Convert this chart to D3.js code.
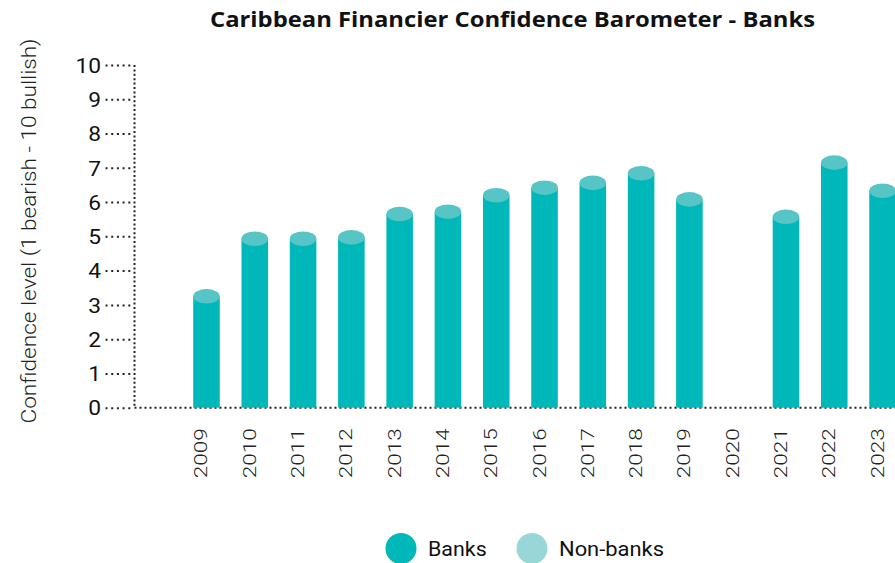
<!DOCTYPE html>
<html>
<head>
<meta charset="utf-8">
<script src="https://cdn.jsdelivr.net/npm/d3@7"></script>
<style>
  html, body { margin: 0; padding: 0; background: #fff; }
  svg { display: block; }
</style>
</head>
<body>
<svg id="chart" width="895" height="563"></svg>
<script>
// Survey years and the average bank confidence score for each (2020: no survey)
const years = ["2009","2010","2011","2012","2013","2014","2015","2016","2017","2018","2019","2020","2021","2022","2023"];
const banks = [3.25, 4.93, 4.93, 4.97, 5.65, 5.72, 6.2, 6.42, 6.56, 6.84, 6.08, null, 5.57, 7.15, 6.33];
const yTicks = [0,1,2,3,4,5,6,7,8,9,10];
const seriesNames = ["Banks", "Non-banks"];
const seriesColors = ["#00b8b9", "#98d7d7"];

const svg = d3.select("#chart");
const W = 895, H = 563;

const step = 48.29;
const x0 = 182.35;
const x = d3.scaleBand()
  .domain(years)
  .range([x0, x0 + step * years.length])
  .paddingInner(0.45)
  .paddingOuter(0.225);

const y = d3.scaleLinear().domain([0, 10]).range([407.7, 65]);
const axisX = 134.5;

// Title
svg.append("text")
  .attr("x", 512.5).attr("y", 27)
  .attr("text-anchor", "middle")
  .attr("font-family", "'Open Sans', sans-serif")
  .attr("font-weight", 700)
  .attr("font-size", 22)
  .attr("fill", "#111")
  .attr("textLength", 605)
  .attr("lengthAdjust", "spacingAndGlyphs")
  .text("Caribbean Financier Confidence Barometer - Banks");

// Y-axis title
svg.append("text")
  .attr("transform", "translate(36,231) rotate(-90)")
  .attr("text-anchor", "middle")
  .attr("font-family", "Roboto, sans-serif")
  .attr("font-weight", 300)
  .attr("font-size", 21)
  .attr("fill", "#222")
  .attr("textLength", 385)
  .attr("lengthAdjust", "spacingAndGlyphs")
  .text("Confidence level (1 bearish - 10 bullish)");

// Dotted y axis with dotted tick leaders
const yAxis = d3.axisLeft(y).tickValues(yTicks).tickSize(0).tickPadding(0).tickFormat(d3.format("d"));
const gy = svg.append("g").attr("transform", `translate(${axisX},0)`).call(yAxis);
gy.select(".domain").remove();
gy.selectAll(".tick line").remove();
gy.selectAll(".tick").append("line")
  .attr("x1", -29).attr("x2", -3)
  .attr("stroke", "#222").attr("stroke-width", 2)
  .attr("stroke-dasharray", "2,3.7");
gy.selectAll(".tick text")
  .attr("x", -33.5)
  .attr("dy", "0.36em")
  .attr("text-anchor", "end")
  .attr("font-family", "Roboto, sans-serif")
  .attr("font-size", 20)
  .attr("fill", "#111")
  .attr("textLength", d => String(d).length * 12.8)
  .attr("lengthAdjust", "spacingAndGlyphs");

svg.append("line")
  .attr("x1", axisX).attr("x2", axisX)
  .attr("y1", y(10)).attr("y2", y(0))
  .attr("stroke", "#222").attr("stroke-width", 2)
  .attr("stroke-dasharray", "2,2.4");

// Dotted baseline
svg.append("line")
  .attr("x1", axisX).attr("x2", W)
  .attr("y1", y(0)).attr("y2", y(0))
  .attr("stroke", "#222").attr("stroke-width", 2)
  .attr("stroke-dasharray", "2,3");

// Cylinder bars
const data = years.map((yr, i) => ({ year: yr, value: banks[i] })).filter(d => d.value != null);
const bw = x.bandwidth();
const ry = 7.3;
const bars = svg.append("g");
bars.selectAll("rect").data(data).join("rect")
  .attr("x", d => x(d.year))
  .attr("y", d => y(d.value))
  .attr("width", bw)
  .attr("height", d => y(0) - y(d.value))
  .attr("fill", seriesColors[0]);
bars.selectAll("ellipse").data(data).join("ellipse")
  .attr("cx", d => x(d.year) + bw / 2)
  .attr("cy", d => y(d.value))
  .attr("rx", bw / 2)
  .attr("ry", ry)
  .attr("fill", "#57c5c5");

// Year labels
const xAxis = d3.axisBottom(x).tickSize(0).tickPadding(0);
const gx = svg.append("g").attr("transform", `translate(0,${y(0)})`).call(xAxis);
gx.select(".domain").remove();
gx.selectAll(".tick text")
  .attr("transform", "translate(1,20.5) rotate(-90)")
  .attr("x", 0).attr("y", 0).attr("dy", 0)
  .attr("text-anchor", "end")
  .attr("font-family", "Roboto, sans-serif")
  .attr("font-weight", 300)
  .attr("font-size", 18)
  .attr("fill", "#222")
  .attr("textLength", 50)
  .attr("lengthAdjust", "spacingAndGlyphs");

// Legend
const legendX = [401, 532];
const legendTextLen = [58.7, 105];
const lg = svg.append("g");
seriesNames.forEach((name, i) => {
  lg.append("circle")
    .attr("cx", legendX[i]).attr("cy", 548.5).attr("r", 15.5)
    .attr("fill", seriesColors[i]);
  lg.append("text")
    .attr("x", legendX[i] + 27).attr("y", 556)
    .attr("font-family", "Roboto, sans-serif")
    .attr("font-size", 20)
    .attr("fill", "#111")
    .attr("textLength", legendTextLen[i])
    .attr("lengthAdjust", "spacingAndGlyphs")
    .text(name);
});
</script>
</body>
</html>
